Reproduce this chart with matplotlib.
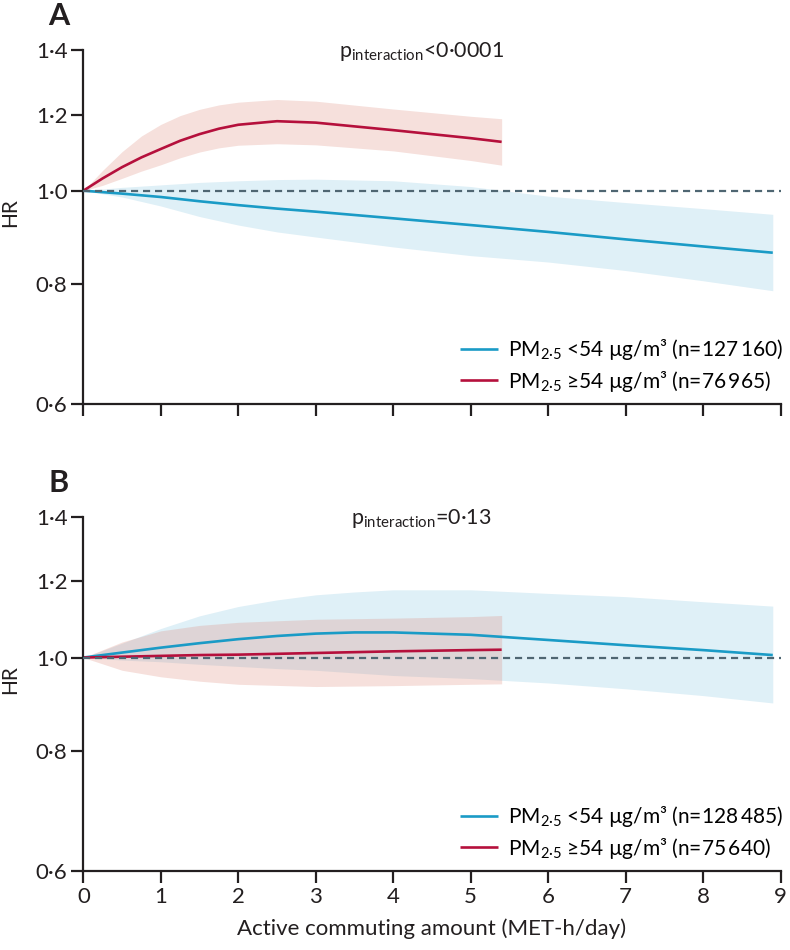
import matplotlib
matplotlib.use('Agg')
import matplotlib.pyplot as plt
from matplotlib.ticker import FixedLocator, NullLocator

plt.rcParams['font.family'] = ['Lato', 'DejaVu Sans']
plt.rcParams['mathtext.fontset'] = 'custom'
plt.rcParams['mathtext.rm'] = 'Lato'
plt.rcParams['mathtext.it'] = 'Lato:italic'

# panel A: HR by active commuting, split by PM2.5
xLowA = [0, 0.5, 1, 1.5, 2, 2.5, 3, 4, 5, 6, 7, 8, 8.9]
hrLowA = [1.0, 0.993, 0.985, 0.975, 0.966, 0.958, 0.951, 0.936, 0.921, 0.906, 0.890, 0.875, 0.862]
upLowA = [1.0, 1.008, 1.014, 1.020, 1.024, 1.027, 1.028, 1.024, 1.010, 0.987, 0.972, 0.958, 0.945]
loLowA = [1.0, 0.985, 0.964, 0.940, 0.921, 0.906, 0.895, 0.874, 0.856, 0.843, 0.826, 0.806, 0.787]

xHighA = [0, 0.25, 0.5, 0.75, 1, 1.25, 1.5, 1.75, 2, 2.5, 3, 4, 5, 5.4]
hrHighA = [1.0, 1.030, 1.058, 1.083, 1.105, 1.127, 1.145, 1.160, 1.171, 1.181, 1.177, 1.156, 1.134, 1.124]
upHighA = [1.0, 1.050, 1.098, 1.140, 1.172, 1.197, 1.215, 1.228, 1.236, 1.244, 1.239, 1.216, 1.195, 1.188]
loHighA = [1.0, 1.013, 1.030, 1.048, 1.064, 1.082, 1.097, 1.108, 1.115, 1.119, 1.116, 1.100, 1.075, 1.063]

# panel B
xLowB = [0, 0.5, 1, 1.5, 2, 2.5, 3, 3.5, 4, 5, 6, 7, 8, 8.9]
hrLowB = [1.0, 1.012, 1.024, 1.035, 1.045, 1.053, 1.059, 1.062, 1.062, 1.056, 1.043, 1.030, 1.018, 1.006]
upLowB = [1.0, 1.035, 1.072, 1.105, 1.130, 1.148, 1.162, 1.170, 1.176, 1.176, 1.166, 1.157, 1.143, 1.131]
loLowB = [1.0, 0.994, 0.990, 0.984, 0.979, 0.974, 0.970, 0.964, 0.958, 0.951, 0.941, 0.928, 0.913, 0.897]

xHighB = [0, 0.5, 1, 1.5, 2, 3, 4, 5, 5.4]
hrHighB = [1.0, 1.002, 1.004, 1.006, 1.007, 1.011, 1.015, 1.018, 1.019]
upHighB = [1.0, 1.038, 1.066, 1.080, 1.088, 1.096, 1.099, 1.103, 1.106]
loHighB = [1.0, 0.970, 0.955, 0.945, 0.938, 0.933, 0.935, 0.938, 0.939]

nLow = ['127\u2009160', '128\u2009485']
nHigh = ['76\u2009965', '75\u2009640']
pTexts = ['<0·0001', '=0·13']
panelNames = ['A', 'B']

yTicks = [0.6, 0.8, 1.0, 1.2, 1.4]
yTickLabels = ['0·6', '0·8', '1·0', '1·2', '1·4']
xTicks = list(range(10))

blue = '#1a9bc6'
red = '#b5103c'
blueBand = '#80c4e0'
redBand = '#dc8474'
ink = '#231f20'

fig = plt.figure(figsize=(7.9, 9.5), dpi=100)
axA = fig.add_axes([0.1055, 0.5747, 0.8825, 0.3725])
axB = fig.add_axes([0.1055, 0.0832, 0.8825, 0.3726])

panels = [
    (axA, xLowA, hrLowA, upLowA, loLowA, xHighA, hrHighA, upHighA, loHighA),
    (axB, xLowB, hrLowB, upLowB, loLowB, xHighB, hrHighB, upHighB, loHighB),
]

for i, (ax, xl, hl, ul, ll, xh, hh, uh, lh) in enumerate(panels):
    ax.set_yscale('log')
    # confidence bands
    ax.fill_between(xl, ll, ul, color=blueBand, alpha=0.25, linewidth=0)
    ax.fill_between(xh, lh, uh, color=redBand, alpha=0.25, linewidth=0)
    # curves
    ax.plot(xl, hl, color=blue, lw=1.9, solid_capstyle='butt',
            label='PM$_{\\mathrm{2·5}}$ <54 µg/m³ (n=' + nLow[i] + ')')
    ax.plot(xh, hh, color=red, lw=1.9, solid_capstyle='butt',
            label='PM$_{\\mathrm{2·5}}$ ≥54 µg/m³ (n=' + nHigh[i] + ')')
    # reference line
    ax.axhline(1.0, color='#4f6672', lw=1.6, linestyle=(0, (3.2, 2.2)), zorder=3)

    ax.set_xlim(0, 9)
    ax.set_ylim(0.6, 1.4)
    ax.yaxis.set_major_locator(FixedLocator(yTicks))
    ax.yaxis.set_minor_locator(NullLocator())
    ax.set_yticklabels(yTickLabels)
    ax.set_xticks(xTicks)
    if i == 0:
        ax.set_xticklabels([])
    else:
        ax.set_xlabel('Active commuting amount (MET-h/day)', fontsize=16, color=ink, labelpad=8)
    ax.set_ylabel('HR', fontsize=15, color=ink)
    ax.yaxis.set_label_coords(-0.091, 0.54)

    for side in ['top', 'right']:
        ax.spines[side].set_visible(False)
    for side in ['left', 'bottom']:
        ax.spines[side].set_linewidth(1.6)
        ax.spines[side].set_color(ink)
    ax.tick_params(direction='out', length=8.5, width=1.6, color=ink,
                   labelsize=16, labelcolor=ink, pad=3)

    ax.text(0.485, 0.995, 'p$_{\\mathrm{interaction}}$' + pTexts[i], transform=ax.transAxes,
            ha='center', va='center', fontsize=15.5, color=ink)
    ax.text(-0.05, 1.135, panelNames[i], transform=ax.transAxes,
            ha='left', va='top', fontsize=22, fontweight='bold', color=ink)

    ax.legend(loc='lower right', bbox_to_anchor=(1.025, -0.012), frameon=False,
              fontsize=15, handlelength=1.8, handletextpad=0.5, labelspacing=0.3,
              borderaxespad=0.3)

fig.savefig('out.png', dpi=100)
